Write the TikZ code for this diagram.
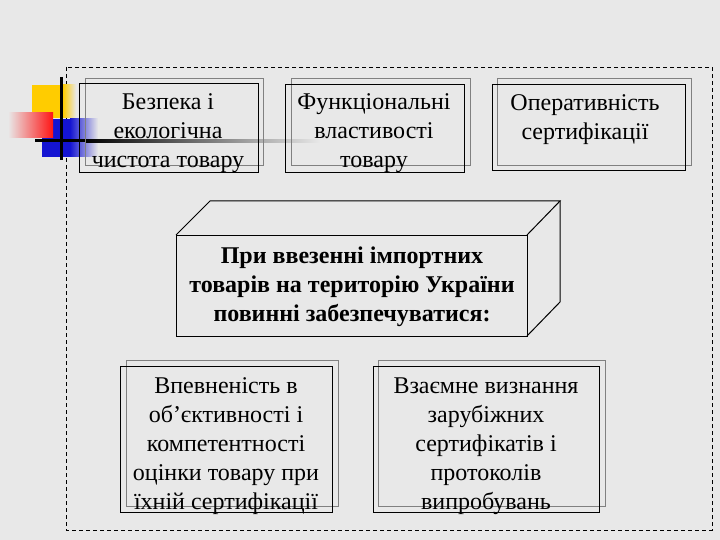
\documentclass[tikz,border=0pt]{standalone}
\usepackage{fontspec}
\setmainfont{Liberation Serif}
\usetikzlibrary{positioning}
\definecolor{slidebg}{RGB}{232,232,232}
\definecolor{sqyellow}{RGB}{255,204,0}
\definecolor{sqred}{RGB}{255,20,20}
\definecolor{sqblue}{RGB}{20,20,210}
\newcommand{\slidefont}{\fontsize{24}{29}\selectfont}

\begin{document}
\begin{tikzpicture}[x=1pt,y=-1pt,
  frontframe/.style={draw=black,line width=1pt},
  backframe/.style={draw=gray,line width=1pt},
  boxtext/.style={align=center,inner sep=0pt,font=\slidefont}]
\fill[slidebg] (0,0) rectangle (720,540);
\useasboundingbox (0,0) rectangle (720,540);
\draw[dashed,dash pattern=on 4pt off 3pt] (66,67) rectangle (712,530);
\fill[sqyellow] (32,85) rectangle (63,118);
\shade[left color=sqyellow,right color=slidebg] (63,85) rectangle (76,118);
\fill[sqblue] (42,119) rectangle (70,157);
\shade[left color=sqblue,right color=slidebg] (70,119) rectangle (98,157);
\shade[left color=slidebg,right color=sqred] (8,113) rectangle (53,138);
\draw[line width=3pt] (61,77) -- (61,160);
\draw[line width=3pt] (35,141) -- (85,141);
\shade[left color=black,right color=slidebg] (85,139.5) rectangle (320,142.5);
\draw[backframe] (85,79) rectangle (263,166);
\draw[frontframe] (79,84) rectangle (258,173);
\node[boxtext] (bezpeka) at (168,133) {Безпека і\\екологічна\\чистота товару};
\draw[backframe] (291,79) rectangle (470,166);
\draw[frontframe] (285,85) rectangle (464,173);
\node[boxtext] (funkts) at (374,133) {Функціональні\\властивості\\товару};
\draw[backframe] (497,79) rectangle (691,166);
\draw[frontframe] (492,85) rectangle (685,171);
\node[boxtext] (operat) at (585,120) {Оперативність\\сертифікації};
\draw[frontframe] (176,235) rectangle (527,336);
\draw[frontframe] (176,235) -- (210,201) -- (560,201) -- (527,235);
\draw[frontframe] (560,201) -- (560,302) -- (527,336);
\node[boxtext,font=\slidefont\bfseries] (vvezennia) at (352,287) {При ввезенні імпортних\\товарів на територію України\\повинні забезпечуватися:};
\draw[backframe] (126,360) rectangle (338,506);
\draw[frontframe] (120,366) rectangle (332,512);
\node[boxtext] (vpevnenist) at (226,446) {Впевненість в\\об’єктивності і\\компетентності\\оцінки товару при\\їхній сертифікації};
\draw[backframe] (378,360) rectangle (605,506);
\draw[frontframe] (373,366) rectangle (599,512);
\node[boxtext] (vyznannia) at (486,446) {Взаємне визнання\\зарубіжних\\сертифікатів і\\протоколів\\випробувань};
\end{tikzpicture}
\end{document}
